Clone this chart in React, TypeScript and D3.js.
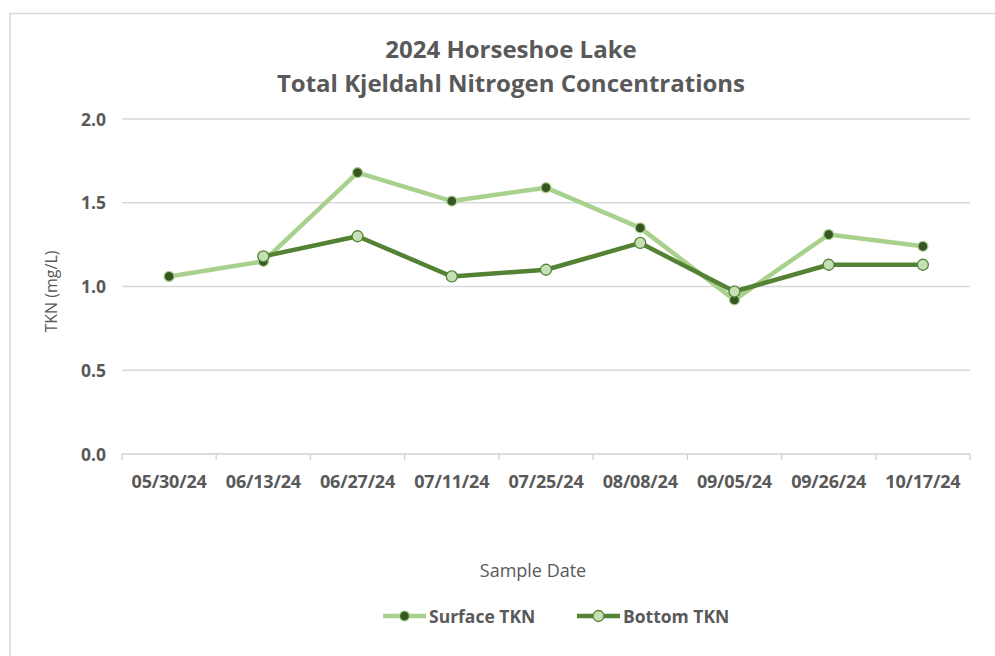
import React from "react";
import * as d3 from "d3";

const categories = ["05/30/24", "06/13/24", "06/27/24", "07/11/24", "07/25/24", "08/08/24", "09/05/24", "09/26/24", "10/17/24"];
const surfaceTKN: (number | null)[] = [1.06, 1.15, 1.68, 1.51, 1.59, 1.35, 0.92, 1.31, 1.24];
const bottomTKN: (number | null)[] = [null, 1.18, 1.30, 1.06, 1.10, 1.26, 0.97, 1.13, 1.13];
const yTicks = [0, 0.5, 1.0, 1.5, 2.0];

const W = 995, H = 656;
const plot = { left: 122, right: 970, top: 119, bottom: 454 };
const LIGHT = "#a9d18e";
const DARK = "#548235";
const DARKFILL = "#375623";
const LIGHTFILL = "#c5e0b4";
const TXT = "#595959";
const FONT = "'Open Sans', sans-serif";

export default function App() {
  const x = d3.scaleBand<string>().domain(categories).range([plot.left, plot.right]).paddingInner(0).paddingOuter(0);
  const y = d3.scaleLinear().domain([0, 2]).range([plot.bottom, plot.top]);
  const cx = (c: string) => (x(c) as number) + x.bandwidth() / 2;

  const line = d3.line<{ c: string; v: number | null }>()
    .defined((d) => d.v !== null)
    .x((d) => cx(d.c))
    .y((d) => y(d.v as number));

  const sData = categories.map((c, i) => ({ c, v: surfaceTKN[i] }));
  const bData = categories.map((c, i) => ({ c, v: bottomTKN[i] }));
  const boundaries = [...categories.map((c) => x(c) as number), plot.right];

  return (
    <svg width={W} height={H} style={{ position: "absolute", left: 0, top: 0 }} fontFamily={FONT}>
      <rect x={0} y={0} width={W} height={H} fill="#fff" />
      <path d={`M10,${H} V13.5 H${W}`} fill="none" stroke="#d9d9d9" strokeWidth={1.5} />
      <text x={511} y={58} textAnchor="middle" fontSize={24} fontWeight="bold" fill={TXT}>2024 Horseshoe Lake</text>
      <text x={511} y={92} textAnchor="middle" fontSize={24} fontWeight="bold" fill={TXT}>Total Kjeldahl Nitrogen Concentrations</text>

      {yTicks.map((t) => (
        <g key={t}>
          {t !== 0 && <line x1={plot.left} x2={plot.right} y1={y(t)} y2={y(t)} stroke="#d9d9d9" strokeWidth={1.3} />}
          <text x={106} y={y(t) + 6.5} textAnchor="end" fontSize={17.5} fontWeight="bold" fill={TXT}>{t.toFixed(1)}</text>
        </g>
      ))}
      <line x1={plot.left} x2={plot.right} y1={plot.bottom} y2={plot.bottom} stroke="#d0d0d0" strokeWidth={1.3} />
      {boundaries.map((b, i) => (
        <line key={i} x1={b} x2={b} y1={plot.bottom} y2={plot.bottom + 6} stroke="#d0d0d0" strokeWidth={1.3} />
      ))}
      {categories.map((c) => (
        <text key={c} x={cx(c)} y={488} textAnchor="middle" fontSize={18} fontWeight="bold" fill={TXT} letterSpacing={-0.2}>{c}</text>
      ))}
      <text transform={`translate(57,${(plot.top + plot.bottom) / 2 + 5}) rotate(-90)`} textAnchor="middle" fontSize={16} fill={TXT}>TKN (mg/L)</text>
      <text x={533} y={577} textAnchor="middle" fontSize={18} fill={TXT}>Sample Date</text>

      <path d={line(sData) || ""} fill="none" stroke={LIGHT} strokeWidth={4.5} strokeLinejoin="round" />
      <path d={line(bData) || ""} fill="none" stroke={DARK} strokeWidth={4.5} strokeLinejoin="round" />
      {sData.filter((d) => d.v !== null).map((d) => (
        <circle key={"s" + d.c} cx={cx(d.c)} cy={y(d.v as number)} r={5} fill={DARKFILL} stroke={LIGHT} strokeWidth={1.2} />
      ))}
      {bData.filter((d) => d.v !== null).map((d) => (
        <circle key={"b" + d.c} cx={cx(d.c)} cy={y(d.v as number)} r={5.5} fill={LIGHTFILL} stroke={DARK} strokeWidth={1.3} />
      ))}

      <g>
        <line x1={383} x2={426} y1={616} y2={616} stroke={LIGHT} strokeWidth={4.5} />
        <circle cx={404.5} cy={616} r={5} fill={DARKFILL} stroke={LIGHT} strokeWidth={1.2} />
        <text x={429} y={622.5} fontSize={17.5} fontWeight="bold" fill={TXT}>Surface TKN</text>
        <line x1={577} x2={620} y1={616} y2={616} stroke={DARK} strokeWidth={4.5} />
        <circle cx={598.5} cy={616} r={5.5} fill={LIGHTFILL} stroke={DARK} strokeWidth={1.3} />
        <text x={623} y={622.5} fontSize={17.5} fontWeight="bold" fill={TXT}>Bottom TKN</text>
      </g>
    </svg>
  );
}
